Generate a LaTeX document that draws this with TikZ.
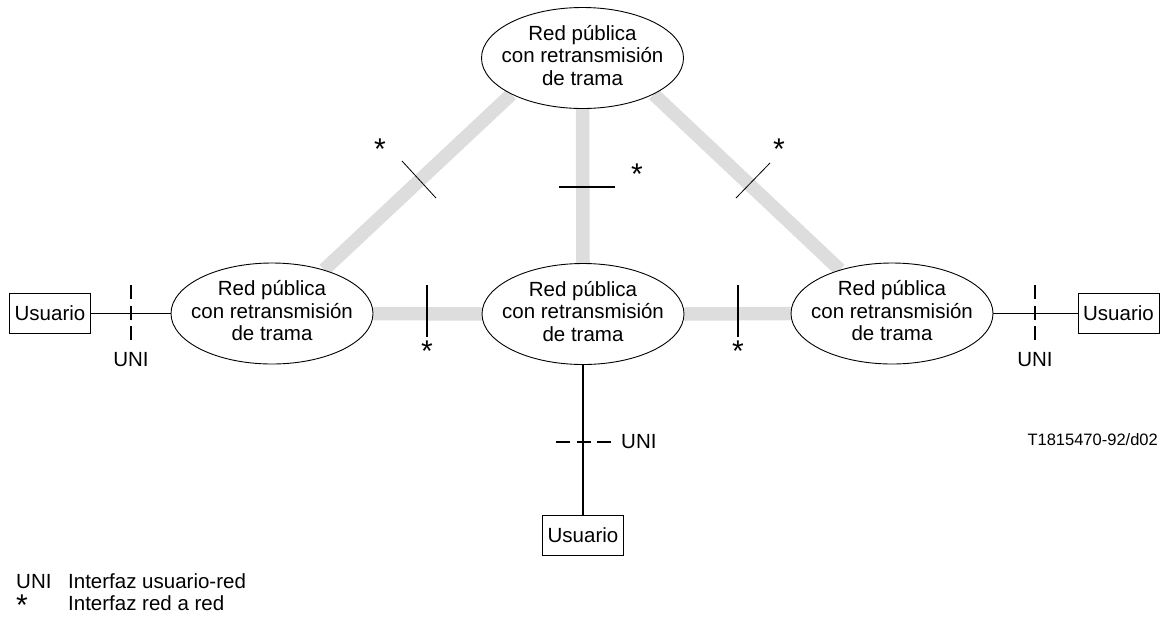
\documentclass[tikz,border=0pt]{standalone}
\usepackage{fontspec}
\setmainfont{Liberation Sans}
\usetikzlibrary{shapes.geometric,backgrounds}
\definecolor{lgray}{RGB}{221,221,221}
\newcommand{\rpt}{\makebox[0pt]{\begin{tabular}{@{}c@{}}Red pública\\con retransmisión\\de trama\end{tabular}}}
\begin{document}
\begin{tikzpicture}[x=1pt,y=-1pt,
  every node/.style={font=\fontsize{20.5}{22.5}\selectfont, inner sep=0pt},
  net/.style={ellipse, draw, line width=0.9pt, fill=white, minimum width=202pt, minimum height=101pt},
  user/.style={rectangle, draw, line width=0.9pt, fill=white, minimum width=81pt, minimum height=40pt},
  trunk/.style={line width=13.5pt, draw=lgray},
  link/.style={line width=1.9pt},
  uni/.style={line width=1.9pt, dash pattern=on 14pt off 6.5pt},
  tickmark/.style={line width=1.9pt},
  thintick/.style={line width=0.8pt},
  star/.style={anchor=base, font=\fontsize{30}{30}\selectfont},
  small/.style={font=\fontsize{16.5}{19}\selectfont}]
\useasboundingbox (0,0) rectangle (1165,622);

% networks
\node[net] (top) at (582.5,58) {\rpt};
\node[net] (left) at (272,313.5) {\rpt};
\node[net] (mid) at (583,314) {\rpt};
\node[net] (right) at (892,313.5) {\rpt};

% users
\node[user] (uleft) at (50,313.5) {Usuario};
\node[user] (uright) at (1118.5,313.5) {Usuario};
\node[user] (ubot) at (583,535) {Usuario};

% gray inter-network links
\begin{pgfonlayer}{background}
\draw[trunk] (top.207) -- (left.40);
\draw[trunk] (top.333) -- (right.140);
\draw[trunk] (top.south) -- (mid.north);
\draw[trunk] (left.east) -- (mid.west);
\draw[trunk] (mid.east) -- (right.west);
\end{pgfonlayer}

% user links
\draw[link] (uleft.east) -- (left.west);
\draw[link] (right.east) -- (uright.west);
\draw[link] (mid.south) -- (ubot.north);

% UNI dashed markers
\coordinate (d1a) at (131,285); \coordinate (d1b) at (131,340);
\coordinate (d2a) at (1035,285); \coordinate (d2b) at (1035,340);
\coordinate (d3a) at (556,442); \coordinate (d3b) at (611,442);
\draw[uni] (d1a) -- (d1b);
\draw[uni] (d2a) -- (d2b);
\draw[uni] (d3a) -- (d3b);
\node (uni1) at (131,360) {UNI};
\node (uni2) at (1035,360) {UNI};
\node[anchor=west] (uni3) at (621,442) {UNI};

% network-network interface ticks
\coordinate (t1a) at (402,161); \coordinate (t1b) at (436,198);
\coordinate (t2a) at (770,163); \coordinate (t2b) at (736,198);
\coordinate (t3a) at (559,187); \coordinate (t3b) at (615,187);
\coordinate (t4a) at (427,285); \coordinate (t4b) at (427,337);
\coordinate (t5a) at (738,285); \coordinate (t5b) at (738,337);
\draw[thintick] (t1a) -- (t1b);
\draw[thintick] (t2a) -- (t2b);
\draw[tickmark] (t3a) -- (t3b);
\draw[tickmark] (t4a) -- (t4b);
\draw[tickmark] (t5a) -- (t5b);
\node[star] (s1) at (380,159) {*};
\node[star] (s2) at (779,159) {*};
\node[star] (s3) at (637,184) {*};
\node[star] (s4) at (427,361) {*};
\node[star] (s5) at (738,361) {*};

% reference
\node[small, anchor=east] (ref) at (1158,440) {T1815470-92/d02};

% legend
\node[anchor=base west] (l1) at (16,588) {UNI};
\node[anchor=base west] (l2) at (68,588) {Interfaz usuario-red};
\node[star] (l3) at (22,615) {*};
\node[anchor=base west] (l4) at (68,610) {Interfaz red a red};
\end{tikzpicture}
\end{document}
